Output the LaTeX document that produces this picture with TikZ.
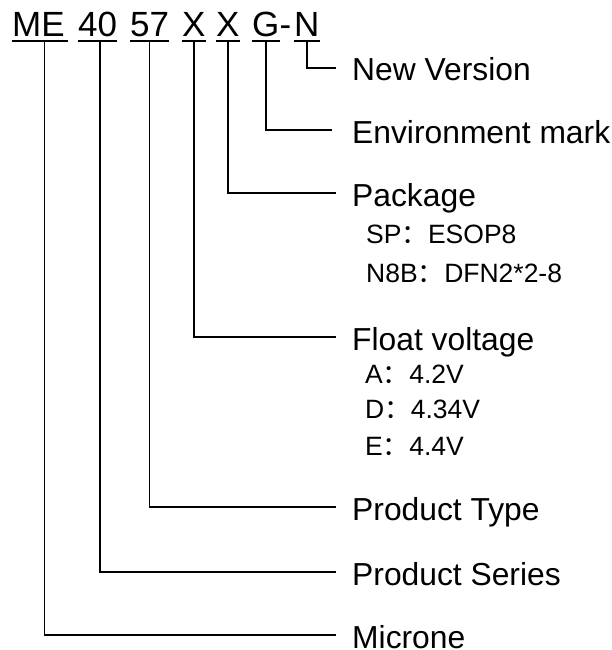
\documentclass[tikz,border=0pt]{standalone}
\usepackage{fontspec}
\setmainfont{Liberation Sans}
\newfontfamily\cjkfont{Noto Sans CJK SC}
\newcommand{\fcolon}{{\cjkfont ：}}
\begin{document}
\begin{tikzpicture}[x=1pt,y=-1pt,
  titlepart/.style={inner sep=0pt, anchor=base west, font=\fontsize{35}{42}\selectfont},
  lbl/.style={inner sep=0pt, anchor=west, text height=26pt, text depth=0pt, font=\fontsize{31.8}{38}\selectfont},
  subitem/.style={inner sep=0pt, anchor=base west, font=\fontsize{26.5}{32}\selectfont},
  conn/.style={line width=1.4pt},
  uline/.style={line width=2.2pt}]
\useasboundingbox (0,0) rectangle (612,650);
% title parts
\node[titlepart] (me)  at (12,37)  {ME};
\node[titlepart] (s40) at (78,37)  {40};
\node[titlepart] (s57) at (130,37) {57};
\node[titlepart] (x1)  at (182,37) {X};
\node[titlepart] (x2)  at (216,37) {X};
\node[titlepart] (g)   at (252,37) {G};
\node[titlepart] (hy)  at (279.5,37) {-};
\node[titlepart] (n)   at (294,37) {N};
% underlines
\foreach \p/\e in {me/3.5pt, s40/0pt, s57/0pt, x1/0pt, x2/0pt, g/0pt, n/0pt}
  \draw[uline] ([yshift=-4pt]\p.base west) -- ([yshift=-4pt,xshift=\e]\p.base east);
% labels
\node[lbl] (newv)  at (352,68)  {New Version};
\node[lbl] (env)   at (352,130) {Environment mark};
\node[lbl] (pkg)   at (352,193) {Package};
\node[lbl] (flt)   at (352,337) {Float voltage};
\node[lbl] (ptype) at (352,507) {Product Type};
\node[lbl] (pser)  at (352,572) {Product Series};
\node[lbl] (micr)  at (352,635) {Microne};
% sub items
\node[subitem] (sp)  at (366,243) {SP\fcolon ESOP8};
\node[subitem] (n8b) at (366,282) {N8B\fcolon DFN2*2-8};
\node[subitem] (va)  at (365,383) {A\fcolon 4.2V};
\node[subitem] (vd)  at (365,418) {D\fcolon 4.34V};
\node[subitem] (ve)  at (365,455) {E\fcolon 4.4V};
% connectors
\draw[conn] ([yshift=-4pt]n.base)   |- ([xshift=-16pt]newv.west);
\draw[conn] ([yshift=-4pt]g.base)   |- ([xshift=-20pt]env.west);
\draw[conn] ([yshift=-4pt]x2.base)  |- ([xshift=-16pt]pkg.west);
\draw[conn] ([yshift=-4pt]x1.base)  |- ([xshift=-16pt]flt.west);
\draw[conn] ([yshift=-4pt]s57.base) |- ([xshift=-16pt]ptype.west);
\draw[conn] ([yshift=-4pt,xshift=2.5pt]s40.base) |- ([xshift=-16pt]pser.west);
\draw[conn] ([yshift=-4pt,xshift=6pt]me.base)   |- ([xshift=-16pt]micr.west);
\end{tikzpicture}
\end{document}
